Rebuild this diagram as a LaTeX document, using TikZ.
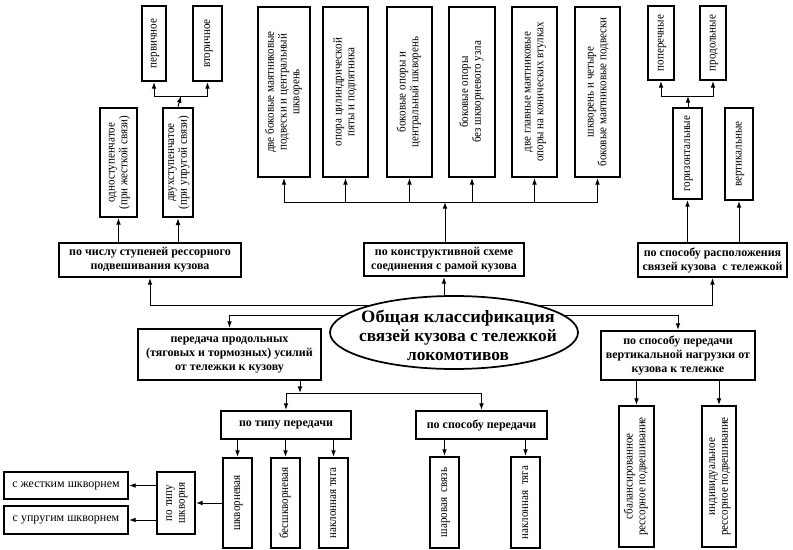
\documentclass[tikz,border=0pt]{standalone}
\usepackage{fontspec}
\usepackage{graphicx}
\setmainfont{Liberation Serif}
\usetikzlibrary{arrows.meta,shapes.geometric}
\newcommand\rt[1]{\rotatebox{90}{\scalebox{0.9}[1]{\begin{tabular}{@{}c@{}}#1\end{tabular}}}}
\newcommand\bxn[7]{\node[#1, minimum width={(#5-#3)*0.75pt}, minimum height={(#6-#4)*0.75pt}] (#2) at ({(#3+#5)/2},{(#4+#6)/2}) {#7};}
\begin{document}
\begin{tikzpicture}[x=0.75pt,y=-0.75pt,
  box/.style={draw, line width=1.6pt, fill=white, inner sep=1pt, align=center, font=\bfseries\fontsize{9}{10.5}\selectfont},
  hbox/.style={draw, line width=1.6pt, fill=white, inner sep=1pt, align=center, font=\fontsize{9}{10.5}\selectfont},
  vbox/.style={draw, line width=1.6pt, fill=white, inner sep=0pt, font=\fontsize{9.2}{9.6}\selectfont},
  arr/.style={-{Latex[length=5pt,width=3.6pt]}, line width=0.75pt},
  ell/.style={draw, ellipse, line width=1.3pt, fill=white, inner sep=0pt},
  elltext/.style={align=center, inner sep=0pt, font=\bfseries\fontsize{13}{14.3}\selectfont}]
\useasboundingbox (0,0) rectangle (793,550);
\fill[white] (0,0) rectangle (793,550);

% top left
\bxn{vbox}{perv}{142}{6}{166}{81}{\rt{первичное}}
\bxn{vbox}{vtor}{193}{6}{222}{81}{\rt{вторичное}}
\bxn{vbox}{odno}{100}{108}{137}{217}{\rt{одноступенчатое\\(при жесткой связи)}}
\bxn{vbox,line width=2pt}{dvuh}{163}{108}{193}{217}{\rt{двухступенчатое\\(при упругой связи)}}
\bxn{box}{chislo}{59}{243}{241}{277}{по числу ступеней рессорного\\подвешивания кузова}
\coordinate (jl) at (181,96);
\draw[arr] (dvuh.north) -- (jl);
\draw[arr] (jl) -| (perv.south);
\draw[arr] (jl) -| (vtor.south);
\draw[arr] (chislo.north -| odno.south) -- (odno.south);
\draw[arr] (chislo.north -| dvuh.south) -- (dvuh.south);

% top middle
\bxn{vbox}{b1}{258}{7}{310}{177}{\rt{две боковые маятниковые\\подвески и центральный\\шкворень}}
\bxn{vbox}{b2}{323}{7}{368}{177}{\rt{опора цилиндрической\\пяты и подпятника}}
\bxn{vbox}{b3}{387}{7}{432}{177}{\rt{боковые опоры и\\центральный шкворень}}
\bxn{vbox}{b4}{449}{7}{495}{177}{\rt{боковые опоры\\без шкворневого узла}}
\bxn{vbox}{b5}{512}{7}{557}{177}{\rt{две главные маятниковые\\опоры на конических втулках}}
\bxn{vbox}{b6}{575}{7}{620}{177}{\rt{шкворень и четыре\\боковые маятниковые подвески}}
\bxn{box}{konstr}{364}{243}{524}{276}{по конструктивной схеме\\соединения с рамой кузова}
\coordinate (jm) at (445,202);
\draw[arr] (konstr.north -| jm) -- (jm);
\foreach \b in {b1,b2,b3,b4,b5,b6} {\draw[arr] (jm) -| (\b.south);}

% top right
\bxn{vbox}{pop}{648}{6}{674}{80}{\rt{поперечные}}
\bxn{vbox}{prod}{700}{6}{726}{80}{\rt{продольные}}
\bxn{vbox}{gor}{673}{108}{702}{199}{\rt{горизонтальные}}
\bxn{vbox}{vert}{725}{108}{753}{200}{\rt{вертикальные}}
\bxn{box}{raspol}{638}{243}{787}{277}{по способу расположения\\связей кузова\ \ с тележкой}
\coordinate (jr) at (688,96);
\draw[arr] (gor.north -| jr) -- (jr);
\draw[arr] (jr) -| (pop.south);
\draw[arr] (jr) -| (prod.south);
\draw[arr] (raspol.north -| gor.south) -- (gor.south);
\draw[arr] (raspol.north -| vert.south) -- (vert.south);

% middle
\bxn{box}{pered}{138}{329}{321}{380}{передача продольных\\(тяговых и тормозных) усилий\\от тележки к кузову}
\bxn{box}{vertn}{601}{331}{755}{380}{по способу передачи\\вертикальной нагрузки от\\кузова к тележке}
\coordinate (e1) at (445,305);
\coordinate (e2) at (445,315);
\draw[arr] (e1) -| (chislo.south);
\draw[arr] (e1) -| (raspol.south);
\draw[arr] (e2) -| (pered.north);
\draw[arr] (e2) -| (vertn.north);
\node[ell, minimum width=248*0.75pt, minimum height=73*0.75pt] (gen) at (454,332.5) {};
\node[elltext] (gentext) at (458,335) {\scalebox{1.06}[1]{Общая классификация}\\связей кузова с тележкой\\локомотивов};
\draw[arr] (konstr.south |- gen.north) -- (konstr.south);

% bottom
\bxn{box}{tip}{221}{411}{351}{439}{по типу передачи}
\bxn{box}{spos}{416}{411}{547}{439}{по способу передачи}
\coordinate (jp) at (300,393);
\draw[arr] (jp |- pered.south) -- (jp);
\draw[arr] (jp) -| (tip.north);
\draw[arr] (jp) -| (spos.north);

\bxn{vbox}{shk}{223}{458}{252}{548}{\rt{шкворневая}}
\bxn{vbox}{bessh}{271}{458}{300}{548}{\rt{бесшкворневая}}
\bxn{vbox}{nakla}{319}{458}{348}{548}{\rt{наклонная тяга}}
\foreach \b in {shk,bessh,nakla} {\draw[arr] (tip.south -| \b.north) -- (\b.north);}
\bxn{vbox}{shar}{430}{457}{459}{548}{\rt{шаровая\ \ связь}}
\bxn{vbox}{naklb}{511}{457}{540}{548}{\rt{наклонная\ \ тяга}}
\foreach \b in {shar,naklb} {\draw[arr] (spos.south -| \b.north) -- (\b.north);}
\bxn{vbox}{sbal}{619}{406}{654}{547}{\rt{сбалансированное\\рессорное подвешивание}}
\bxn{vbox}{indiv}{702}{406}{736}{547}{\rt{индивидуальное\\рессорное подвешивание}}
\foreach \b in {sbal,indiv} {\draw[arr] (vertn.south -| \b.north) -- (\b.north);}

\bxn{vbox}{tshk}{157}{472}{195}{534}{\rt{по типу\\шкворня}}
\draw[arr] (shk.west |- tshk.east) -- (tshk.east);
\bxn{hbox}{zh}{4}{472}{128}{499}{с жестким шкворнем}
\bxn{hbox}{upr}{4}{506}{128}{534}{с упругим шкворнем}
\draw[arr] (tshk.west |- zh.east) -- (zh.east);
\draw[arr] (tshk.west |- upr.east) -- (upr.east);
\end{tikzpicture}
\end{document}
